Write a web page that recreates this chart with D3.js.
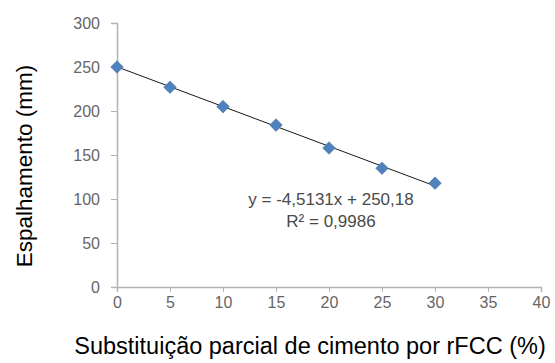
<!DOCTYPE html>
<html>
<head>
<meta charset="utf-8">
<script src="https://cdn.jsdelivr.net/npm/d3@7"></script>
<style>
  body { margin: 0; background: #fff; }
  text { font-family: "Liberation Sans", Arial, sans-serif; }
</style>
</head>
<body>
<svg id="chart" width="555" height="363"></svg>
<script>
// substituição (%) vs espalhamento (mm)
const substituicao = [0, 5, 10, 15, 20, 25, 30];
const espalhamento = [250, 227, 205, 184, 158, 135, 118];
const xTicks = [0, 5, 10, 15, 20, 25, 30, 35, 40];
const yTicks = [0, 50, 100, 150, 200, 250, 300];
const slope = -4.5131, intercept = 250.18;
const eqLabel = "y = -4,5131x + 250,18";
const r2Label = "R² = 0,9986";

const svg = d3.select("#chart");
const margin = { left: 117, right: 14, top: 23, bottom: 76 };
const width = 555 - margin.left - margin.right;
const height = 363 - margin.top - margin.bottom;

const g = svg.append("g").attr("transform", `translate(${margin.left},${margin.top})`);

const x = d3.scaleLinear().domain([0, 40]).range([0, width]);
const y = d3.scaleLinear().domain([0, 300]).range([height, 0]);

const xAxis = d3.axisBottom(x).tickValues(xTicks).tickSize(5).tickPadding(5);
const yAxis = d3.axisLeft(y).tickValues(yTicks).tickSize(6).tickPadding(11);

const xAxisG = g.append("g").attr("transform", `translate(0,${height})`).call(xAxis);
const yAxisG = g.append("g").call(yAxis);

[xAxisG, yAxisG].forEach(a => {
  a.select(".domain").attr("stroke", "#b3b3b3").attr("stroke-width", 1.5);
  a.selectAll(".tick line").attr("stroke", "#b3b3b3");
  a.selectAll(".tick text")
    .attr("fill", "#666")
    .style("font-size", "16px")
    .style("font-family", "'Liberation Sans', Arial, sans-serif");
});

// trendline
g.append("line")
  .attr("x1", x(0)).attr("y1", y(intercept))
  .attr("x2", x(30)).attr("y2", y(intercept + slope * 30))
  .attr("stroke", "#1a1a1a").attr("stroke-width", 1);

// markers
const diamond = d3.symbol().type(d3.symbolSquare).size(80);
g.selectAll(".pt")
  .data(substituicao.map((d, i) => [d, espalhamento[i]]))
  .join("path")
  .attr("class", "pt")
  .attr("d", diamond)
  .attr("transform", d => `translate(${x(d[0])},${y(d[1])}) rotate(45)`)
  .attr("fill", "#4f81bd")
  .attr("stroke", "#3f6fa8")
  .attr("stroke-width", 0.5);

// equation
g.append("text")
  .attr("x", 331 - margin.left).attr("y", 205 - margin.top)
  .attr("text-anchor", "middle")
  .attr("fill", "#4a4a4a")
  .style("font-size", "17px")
  .text(eqLabel);
g.append("text")
  .attr("x", 331 - margin.left).attr("y", 227 - margin.top)
  .attr("text-anchor", "middle")
  .attr("fill", "#4a4a4a")
  .style("font-size", "17px")
  .text(r2Label);

// axis titles
svg.append("text")
  .attr("x", 310).attr("y", 354)
  .attr("text-anchor", "middle")
  .style("font-size", "23.5px")
  .text("Substituição parcial de cimento por rFCC (%)");

svg.append("text")
  .attr("transform", "translate(32,166) rotate(-90)")
  .attr("text-anchor", "middle")
  .style("font-size", "22.5px")
  .text("Espalhamento (mm)");
</script>
</body>
</html>
